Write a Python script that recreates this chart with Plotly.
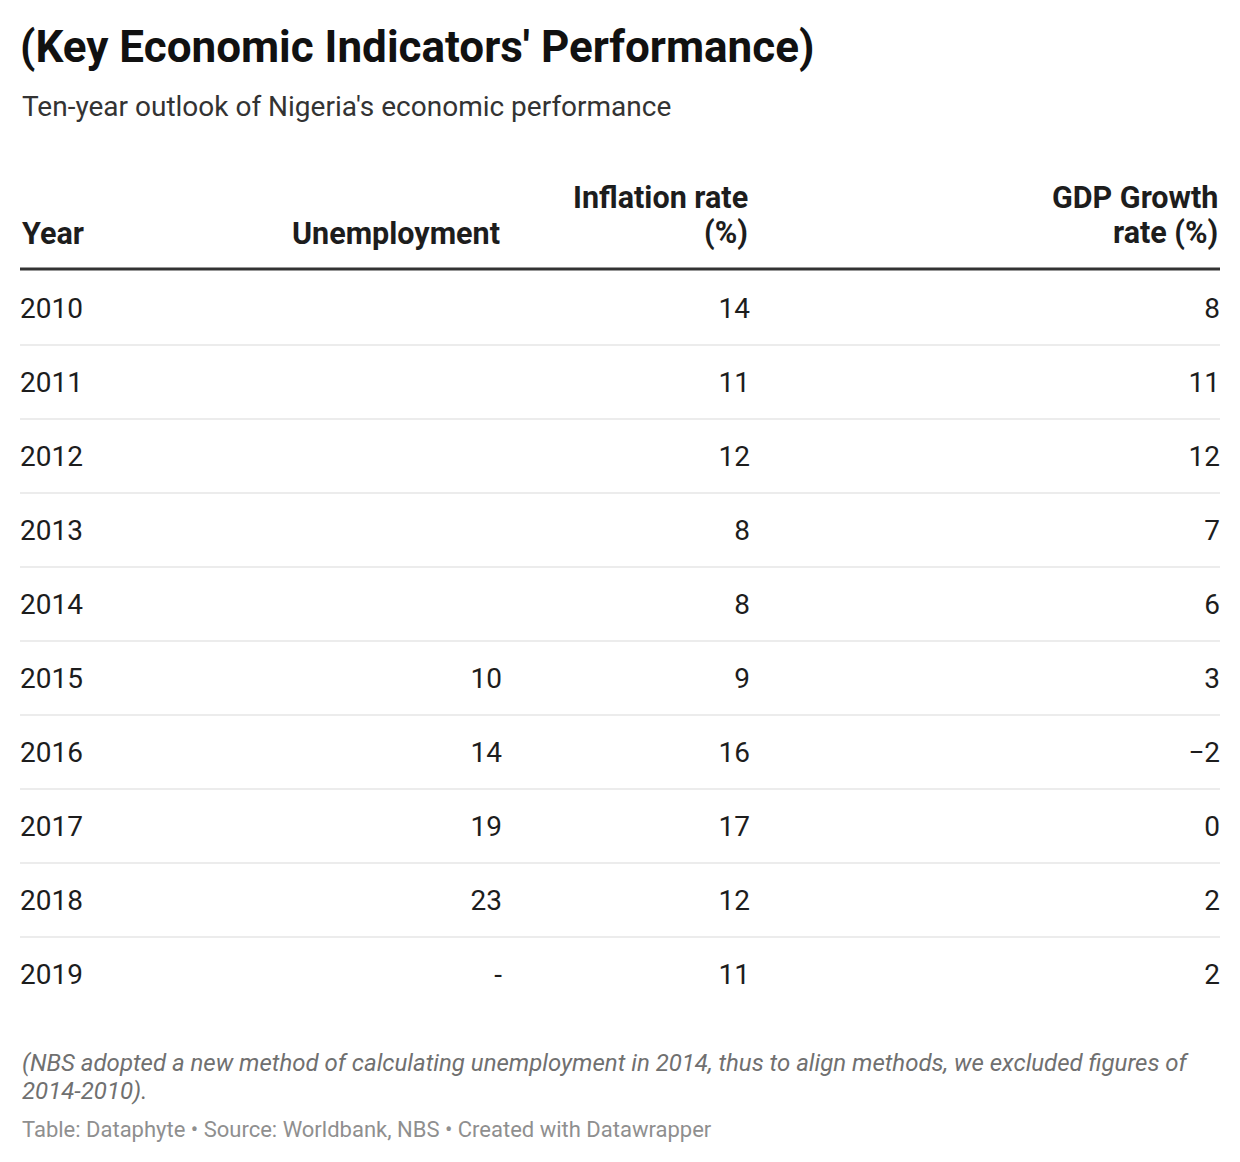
import plotly.graph_objects as go

# ---------------- data ----------------
years = ["2010", "2011", "2012", "2013", "2014", "2015", "2016", "2017", "2018", "2019"]
unemployment = [None, None, None, None, None, 10, 14, 19, 23, "-"]
inflation = [14, 11, 12, 8, 8, 9, 16, 17, 12, 11]
gdp_growth = [8, 11, 12, 7, 6, 3, -2, 0, 2, 2]

headers = ["Year", "Unemployment", "Inflation rate<br>(%)", "GDP Growth<br>rate (%)"]

title = "(Key Economic Indicators' Performance)"
subtitle = "Ten-year outlook of Nigeria's economic performance"
note = ("(NBS adopted a new method of calculating unemployment in 2014, thus to align methods, "
        "we excluded figures of<br>2014-2010).")
footer = "Table: Dataphyte • Source: Worldbank, NBS • Created with Datawrapper"


def fmt(v):
    if v is None:
        return ""
    if isinstance(v, str):
        return v
    return ("\u2212" + str(abs(v))) if v < 0 else str(v)


# ---------------- layout constants ----------------
W, H = 1240, 1162
PAGE_OFF = 8                      # default body margin of the html page
LEFT, RIGHT = 20, 1220
col_x = [20, 502, 750, 1220]      # Year left edge, others right edges
col_anchor = ["left", "right", "right", "right"]
ROW0 = 309
ROW_H = 74
HEADER_LINE_Y = 269
HEADER_LAST_LINE_Y = 233
HEADER_LINE_GAP = 36
FONT = "Roboto"
TEXT = "#1d1d1d"
ROW_SIZE = 28
HEAD_SIZE = 30.5

row_y = [ROW0 + i * ROW_H for i in range(len(years))]

fig = go.Figure()

columns = [years, [fmt(v) for v in unemployment], [fmt(v) for v in inflation], [fmt(v) for v in gdp_growth]]
for ci, col in enumerate(columns):
    fig.add_trace(go.Scatter(
        x=[col_x[ci]] * len(col),
        y=[y + 2 for y in row_y],
        mode="text",
        text=col,
        textposition="middle right" if col_anchor[ci] == "left" else "middle left",
        textfont=dict(family=FONT, size=ROW_SIZE, color=TEXT),
        hoverinfo="skip",
        showlegend=False,
    ))

# header labels (each line placed separately for tight line spacing)
for ci, h in enumerate(headers):
    lines = h.split("<br>")
    n = len(lines)
    for li, line in enumerate(lines):
        fig.add_annotation(
            x=col_x[ci], y=HEADER_LAST_LINE_Y - (n - 1 - li) * HEADER_LINE_GAP,
            xref="x", yref="y",
            text=f"<b>{line}</b>", showarrow=False,
            xanchor=col_anchor[ci], yanchor="middle",
            font=dict(family=FONT, size=HEAD_SIZE, color=TEXT),
        )

# header rule
fig.add_shape(type="line", x0=LEFT, x1=RIGHT, y0=HEADER_LINE_Y, y1=HEADER_LINE_Y,
              xref="x", yref="y", line=dict(color="#333333", width=3))

# row separators (not after last row)
for y in row_y[:-1]:
    sy = y + ROW_H / 2 - 1
    fig.add_shape(type="line", x0=LEFT, x1=RIGHT, y0=sy, y1=sy,
                  xref="x", yref="y", line=dict(color="#e6e6e6", width=1.5))

# title, subtitle, notes
fig.add_annotation(x=LEFT - 2, y=47, xref="x", yref="y", text=f"<b>{title}</b>", showarrow=False,
                   xanchor="left", yanchor="middle",
                   font=dict(family=FONT, size=44, color="#111111"))
fig.add_annotation(x=LEFT, y=106, xref="x", yref="y", text=subtitle, showarrow=False,
                   xanchor="left", yanchor="middle",
                   font=dict(family=FONT, size=28, color="#333333"))
fig.add_annotation(x=LEFT, y=1063, xref="x", yref="y", text=f"<i>{note.split('<br>')[0]}</i>",
                   showarrow=False, xanchor="left", yanchor="middle",
                   font=dict(family=FONT, size=24, color="#707070"))
fig.add_annotation(x=LEFT, y=1091, xref="x", yref="y", text=f"<i>{note.split('<br>')[1]}</i>",
                   showarrow=False, xanchor="left", yanchor="middle",
                   font=dict(family=FONT, size=24, color="#707070"))
fig.add_annotation(x=LEFT, y=1129, xref="x", yref="y", text=footer, showarrow=False,
                   xanchor="left", yanchor="middle",
                   font=dict(family=FONT, size=22, color="#8f8f8f"))

fig.update_layout(
    width=W - PAGE_OFF, height=H - PAGE_OFF,
    margin=dict(l=0, r=0, t=0, b=0),
    paper_bgcolor="white", plot_bgcolor="white",
    xaxis=dict(range=[PAGE_OFF, W], visible=False, fixedrange=True),
    yaxis=dict(range=[H, PAGE_OFF], visible=False, fixedrange=True),
    showlegend=False,
)

fig.write_html("out.html")
